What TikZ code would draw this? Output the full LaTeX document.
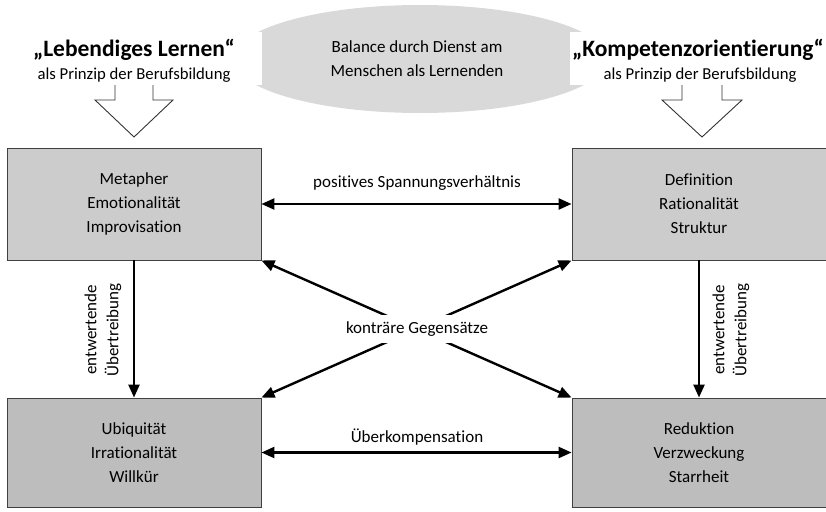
\documentclass[tikz,border=0pt]{standalone}
\usepackage{fontspec}
\setmainfont{Carlito}[Ligatures=CommonOff]
\usetikzlibrary{arrows.meta,shapes.geometric}
\begin{document}
\begin{tikzpicture}[x=1pt,y=-1pt,
  txt/.style={font=\fontsize{17}{24}\selectfont, align=center, inner sep=0pt},
  topbox/.style={draw=black!75, line width=0.9pt, fill=black!20, minimum width=254pt, minimum height=112pt, txt},
  botbox/.style={draw=black!75, line width=0.9pt, fill=black!26, minimum width=254pt, minimum height=109pt, txt},
  conn/.style={line width=2.4pt, {Triangle[length=13pt,width=11pt]}-{Triangle[length=13pt,width=11pt]}},
  oneway/.style={line width=2.4pt, -{Triangle[length=13pt,width=11pt]}},
  hollow/.style={draw=black!80, line width=0.9pt, fill=white},
  titlebox/.style={fill=white, minimum width=257pt, minimum height=53pt, align=center, inner sep=0pt}
]
\useasboundingbox (0,0) rectangle (826,511);

% ellipse
\node[ellipse, fill=black!15, minimum width=374pt, minimum height=108pt] (ell) at (420,59) {};

% hollow arrows
\draw[hollow] (115,80) -- (115,100) -- (95,100) -- (134,137) -- (173,100) -- (153,100) -- (153,80);
\draw[hollow] (682,80) -- (682,100) -- (662,100) -- (702,137) -- (742,100) -- (722,100) -- (722,80);

% title boxes
\node[titlebox] (lt) at (133.5,58.5) {};
\node[titlebox] (rt) at (698,58.5) {};
\node[txt, font=\fontsize{23.5}{24}\selectfont\bfseries] (ltt) at (134,50) {„Lebendiges Lernen“};
\node[txt, font=\fontsize{16.7}{24}\selectfont] (lts) at (134,75) {als Prinzip der Berufsbildung};
\node[txt, font=\fontsize{23.5}{24}\selectfont\bfseries] (rtt) at (698,50) {„Kompetenzorientierung“};
\node[txt, font=\fontsize{16.7}{24}\selectfont] (rts) at (700,75) {als Prinzip der Berufsbildung};
\node[txt] (elltxt) at (417,59) {Balance durch Dienst am\\Menschen als Lernenden};

% boxes
\node[topbox] (tl) at (134,204) {Metapher\\Emotionalität\\Improvisation};
\node[topbox] (tr) at (699,204) {Definition\\Rationalität\\Struktur};
\node[botbox] (bl) at (134,452.5) {Ubiquität\\Irrationalität\\Willkür};
\node[botbox] (br) at (699,452.5) {Reduktion\\Verzweckung\\Starrheit};

% connectors
\draw[conn] (tl.east) -- (tr.west);
\draw[conn] (bl.east) -- (br.west);
\draw[conn] (tl.south east) -- (br.north west);
\draw[conn] (tr.south west) -- (bl.north east);
\draw[oneway] (tl.south) -- (bl.north);
\draw[oneway] (tr.south) -- (br.north);

% labels
\node[txt] (lpos) at (417,183) {positives Spannungsverhältnis};
\node[txt] (lueb) at (417,437) {Überkompensation};
\node[txt, fill=white, minimum height=28pt, inner xsep=3pt] (lkon) at (417,329) {konträre Gegensätze};
\node[txt, rotate=90, font=\fontsize{17}{22}\selectfont] (lent) at (103,330) {entwertende\\Übertreibung};
\node[txt, rotate=90, font=\fontsize{17}{22}\selectfont] (rent) at (731,330) {entwertende\\Übertreibung};
\end{tikzpicture}
\end{document}
